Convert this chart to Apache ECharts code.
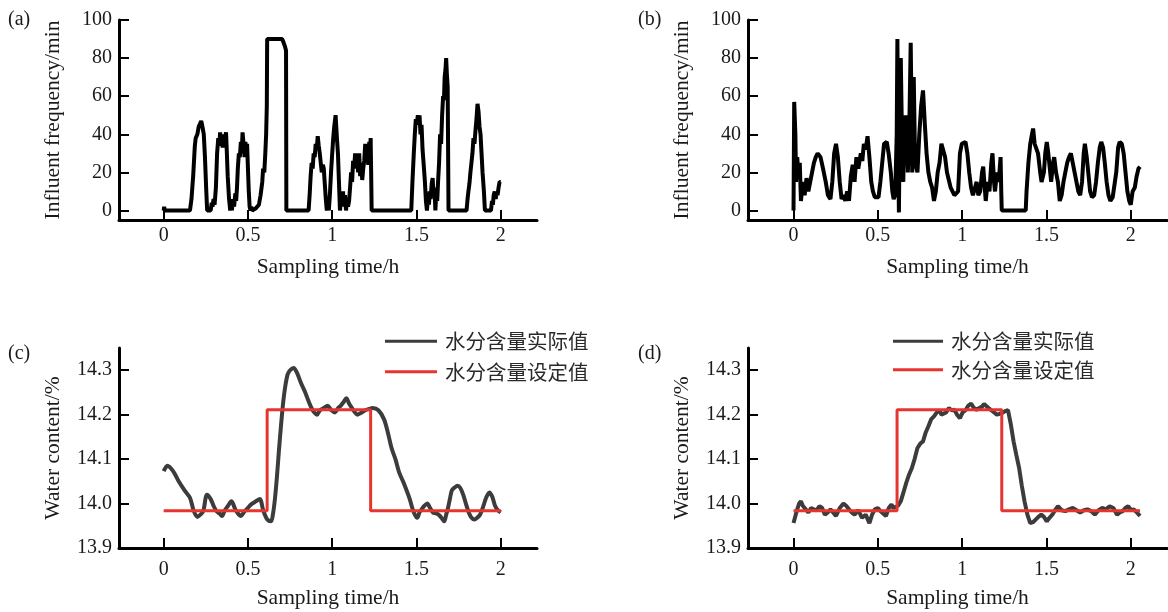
<!DOCTYPE html>
<html>
<head>
<meta charset="utf-8">
<script src="https://cdn.jsdelivr.net/npm/echarts@6/dist/echarts.min.js"></script>
<style>html,body{margin:0;padding:0;background:#fff}#c{width:1168px;height:612px}</style>
</head>
<body>
<div id="c"></div>
<script>
// ---------- data ----------
var xTicks = [0, 0.5, 1, 1.5, 2];
var freqTicks = [0, 20, 40, 60, 80, 100];
var wcTicks = [13.9, 14.0, 14.1, 14.2, 14.3];

// (a) influent frequency, conventional control  [time h, frequency]
var aData = [
  [0,0],[0.003,2],[0.006,0],[0.156,0],[0.165,6],[0.175,18],[0.185,34],[0.19,38],[0.2,40],[0.208,44],[0.215,43],
  [0.223,47],[0.23,44],[0.238,40],[0.245,28],[0.252,12],[0.258,0],[0.279,0],[0.285,4],[0.29,2],[0.296,6],[0.302,3],
  [0.31,12],[0.317,30],[0.324,38],[0.33,34],[0.335,41],[0.34,35],[0.345,38],[0.35,33],[0.355,40],[0.36,36],
  [0.37,41],[0.375,30],[0.38,18],[0.388,6],[0.395,0],[0.4,3],[0.405,0],[0.41,6],[0.418,2],[0.425,9],[0.43,5],
  [0.435,12],[0.44,22],[0.446,30],[0.452,28],[0.458,36],[0.463,30],[0.468,41],[0.475,34],[0.48,28],[0.485,36],
  [0.49,30],[0.495,35],[0.5,22],[0.505,10],[0.51,2],[0.515,0],[0.52,2],[0.525,0],[0.545,1],[0.555,2],[0.565,3],
  [0.575,8],[0.585,15],[0.59,22],[0.597,20],[0.603,30],[0.608,40],[0.612,55],[0.614,90],[0.66,90],[0.703,90],
  [0.712,88],[0.72,86],[0.726,84],[0.728,0],
  [0.86,0],[0.866,8],[0.872,18],[0.878,25],[0.884,22],[0.89,30],[0.896,28],[0.902,35],[0.908,32],[0.914,39],
  [0.92,34],[0.926,30],[0.932,25],[0.938,20],[0.944,24],[0.95,22],[0.956,14],[0.962,6],[0.968,0],[0.974,4],
  [0.98,0],[0.986,8],[0.993,20],[1.0,30],[1.006,38],[1.012,44],[1.02,50],[1.028,38],[1.034,30],[1.04,15],
  [1.046,0],[1.052,6],[1.058,3],[1.064,10],[1.07,2],[1.076,8],[1.082,0],[1.088,6],[1.094,2],[1.1,5],[1.106,12],
  [1.112,20],[1.118,15],[1.124,26],[1.13,22],[1.136,30],[1.142,24],[1.148,28],[1.154,20],[1.16,30],[1.166,18],
  [1.172,25],[1.178,16],[1.184,22],[1.19,26],[1.196,35],[1.202,28],[1.208,30],[1.214,24],[1.22,36],[1.225,30],
  [1.228,38],[1.231,20],[1.234,0],
  [1.469,0],[1.476,15],[1.484,30],[1.49,40],[1.496,48],[1.502,45],[1.508,50],[1.513,47],[1.518,50],[1.524,40],
  [1.53,45],[1.536,32],[1.542,25],[1.55,15],[1.556,5],[1.562,0],[1.569,8],[1.574,3],[1.578,10],[1.584,6],
  [1.59,14],[1.596,17],[1.601,8],[1.607,12],[1.612,0],[1.618,10],[1.623,5],[1.628,15],[1.634,25],[1.64,40],
  [1.646,35],[1.652,50],[1.658,60],[1.663,58],[1.667,70],[1.672,74],[1.676,80],[1.68,72],[1.685,65],[1.69,0],
  [1.797,0],[1.803,6],[1.808,10],[1.814,14],[1.82,20],[1.826,25],[1.832,30],[1.838,38],[1.844,35],[1.85,42],
  [1.856,48],[1.862,56],[1.868,52],[1.874,44],[1.88,40],[1.886,30],[1.892,20],[1.9,10],[1.906,0],
  [1.942,0],[1.948,5],[1.953,3],[1.958,8],[1.964,10],[1.97,6],[1.975,10],[1.981,8],[1.987,12],[1.993,15],[2.0,15]
];

// (b) influent frequency, proposed control  [time h, frequency]
var bData = [
  [0,0],[0.004,57],[0.011,40],[0.015,15],[0.022,28],[0.029,18],[0.037,25],[0.044,5],[0.055,15],[0.066,8],
  [0.077,17],[0.088,10],[0.099,15],[0.11,20],[0.121,25],[0.132,28],[0.143,30],[0.16,28],[0.175,22],[0.191,15],
  [0.204,8],[0.219,6],[0.23,15],[0.241,30],[0.252,35],[0.263,28],[0.274,15],[0.285,6],[0.296,8],[0.307,5],
  [0.318,10],[0.329,5],[0.34,18],[0.351,24],[0.362,15],[0.373,28],[0.384,22],[0.399,30],[0.408,26],[0.417,35],
  [0.428,32],[0.439,39],[0.45,28],[0.461,15],[0.471,10],[0.482,7],[0.493,8],[0.504,7],[0.515,15],[0.526,25],
  [0.537,35],[0.553,36],[0.564,30],[0.577,20],[0.586,10],[0.594,6],[0.603,8],[0.612,40],[0.616,90],[0.621,30],
  [0.625,-1],[0.632,60],[0.636,80],[0.643,40],[0.651,15],[0.658,50],[0.664,30],[0.669,50],[0.678,20],[0.686,40],
  [0.695,88],[0.704,20],[0.713,70],[0.721,25],[0.735,20],[0.746,40],[0.757,55],[0.768,63],[0.779,45],[0.789,30],
  [0.8,20],[0.811,15],[0.822,12],[0.833,5],[0.844,10],[0.855,20],[0.866,25],[0.877,35],[0.888,35],[0.899,28],
  [0.91,20],[0.921,16],[0.932,12],[0.943,10],[0.954,8],[0.965,7],[0.976,10],[0.987,30],[0.998,35],[1.009,36],
  [1.02,36],[1.031,30],[1.042,20],[1.053,12],[1.064,8],[1.075,7],[1.086,15],[1.096,8],[1.107,10],[1.118,20],
  [1.125,23],[1.134,12],[1.14,5],[1.151,15],[1.162,10],[1.173,25],[1.18,30],[1.189,15],[1.195,10],[1.206,20],
  [1.217,15],[1.228,28],[1.232,10],[1.235,0],
  [1.377,0],[1.382,10],[1.393,25],[1.404,35],[1.414,40],[1.421,43],[1.43,35],[1.441,36],[1.45,30],[1.463,20],
  [1.471,15],[1.485,20],[1.493,30],[1.502,36],[1.511,30],[1.52,22],[1.528,15],[1.539,25],[1.546,28],[1.557,20],
  [1.568,15],[1.579,5],[1.59,8],[1.601,15],[1.612,20],[1.623,25],[1.634,28],[1.645,30],[1.656,25],[1.667,20],
  [1.678,15],[1.689,10],[1.7,8],[1.711,15],[1.721,30],[1.728,35],[1.739,28],[1.748,20],[1.759,10],[1.77,7],
  [1.783,8],[1.794,15],[1.805,25],[1.816,33],[1.825,36],[1.836,33],[1.846,25],[1.857,15],[1.868,8],[1.879,5],
  [1.893,7],[1.904,8],[1.914,20],[1.925,33],[1.934,36],[1.947,35],[1.958,30],[1.969,20],[1.98,10],[1.991,5],
  [2.0,3],[2.011,10],[2.024,12],[2.035,18],[2.046,22],[2.055,23]
];

// (c) water content, conventional control  [time h, %]
var cActual = [
  [0,14.073],[0.022,14.085],[0.056,14.073],[0.089,14.05],[0.123,14.03],[0.156,14.013],[0.179,13.983],[0.2,13.97],
  [0.218,13.975],[0.235,13.983],[0.257,14.02],[0.279,14.01],[0.296,13.995],[0.313,13.983],[0.33,13.978],
  [0.346,13.972],[0.363,13.985],[0.38,13.994],[0.402,14.005],[0.425,13.987],[0.44,13.978],[0.458,13.972],
  [0.475,13.98],[0.492,13.987],[0.51,13.995],[0.525,14.0],[0.547,14.005],[0.57,14.01],[0.592,13.983],
  [0.615,13.964],[0.637,13.96],[0.648,13.975],[0.66,14.01],[0.672,14.06],[0.684,14.12],[0.695,14.17],
  [0.707,14.22],[0.72,14.26],[0.735,14.29],[0.75,14.3],[0.771,14.305],[0.79,14.295],[0.816,14.27],[0.84,14.25],
  [0.86,14.23],[0.877,14.215],[0.894,14.205],[0.91,14.2],[0.927,14.21],[0.95,14.215],[0.972,14.22],[0.995,14.21],
  [1.017,14.205],[1.035,14.215],[1.05,14.22],[1.067,14.228],[1.084,14.237],[1.1,14.225],[1.117,14.215],
  [1.135,14.205],[1.15,14.2],[1.175,14.205],[1.196,14.21],[1.22,14.213],[1.24,14.215],[1.274,14.21],
  [1.307,14.19],[1.33,14.16],[1.352,14.125],[1.375,14.1],[1.397,14.07],[1.42,14.05],[1.441,14.03],[1.46,14.01],
  [1.475,13.99],[1.49,13.975],[1.504,13.968],[1.518,13.98],[1.53,13.987],[1.547,13.995],[1.564,14.0],
  [1.581,13.99],[1.598,13.98],[1.615,13.978],[1.631,13.975],[1.648,13.968],[1.665,13.96],[1.676,13.975],
  [1.687,13.99],[1.698,14.01],[1.71,14.03],[1.726,14.036],[1.743,14.04],[1.76,14.035],[1.777,14.02],[1.793,14.0],
  [1.81,13.98],[1.827,13.968],[1.844,13.964],[1.86,13.968],[1.877,13.975],[1.893,13.99],[1.91,14.01],[1.922,14.02],
  [1.933,14.025],[1.95,14.015],[1.966,13.995],[1.983,13.985],[2.0,13.98]
];
var cSetTime = [0, 0.614, 0.614, 1.228, 1.228, 2.0];
var cSet = [13.984, 13.984, 14.211, 14.211, 13.984, 13.984];

// (d) water content, proposed control  [time h, %]
var dActual = [
  [0,13.956],[0.004,13.96],[0.013,13.975],[0.022,13.987],[0.033,14.0],[0.044,14.005],[0.055,13.995],[0.066,13.99],
  [0.077,13.985],[0.088,13.98],[0.104,13.99],[0.12,13.987],[0.137,13.985],[0.154,13.994],[0.17,13.99],
  [0.186,13.975],[0.203,13.98],[0.219,13.987],[0.235,13.98],[0.252,13.972],[0.274,13.99],[0.296,14.0],
  [0.312,13.995],[0.329,13.987],[0.345,13.98],[0.362,13.975],[0.384,13.985],[0.406,13.968],[0.428,13.975],
  [0.45,13.956],[0.466,13.975],[0.482,13.987],[0.5,13.99],[0.515,13.983],[0.53,13.978],[0.548,13.972],
  [0.565,13.99],[0.581,13.998],[0.592,13.99],[0.603,13.987],[0.62,13.995],[0.636,14.005],[0.652,14.025],
  [0.669,14.047],[0.685,14.065],[0.702,14.08],[0.718,14.1],[0.735,14.125],[0.752,14.135],[0.768,14.14],
  [0.784,14.16],[0.8,14.174],[0.817,14.19],[0.833,14.196],[0.85,14.205],[0.866,14.21],[0.877,14.2],[0.888,14.196],
  [0.905,14.205],[0.921,14.215],[0.938,14.21],[0.954,14.211],[0.97,14.2],[0.987,14.192],[1.003,14.205],
  [1.02,14.21],[1.036,14.22],[1.053,14.225],[1.07,14.215],[1.086,14.211],[1.102,14.215],[1.118,14.218],
  [1.13,14.224],[1.14,14.226],[1.157,14.215],[1.173,14.21],[1.19,14.205],[1.206,14.2],[1.222,14.202],
  [1.239,14.204],[1.255,14.208],[1.272,14.21],[1.288,14.18],[1.305,14.14],[1.321,14.11],[1.338,14.08],
  [1.354,14.04],[1.37,14.005],[1.387,13.975],[1.404,13.956],[1.42,13.958],[1.436,13.964],[1.452,13.97],
  [1.469,13.975],[1.485,13.97],[1.502,13.96],[1.518,13.968],[1.535,13.975],[1.551,13.985],[1.568,13.994],
  [1.59,13.985],[1.612,13.983],[1.634,13.987],[1.656,13.99],[1.678,13.985],[1.7,13.98],[1.722,13.985],
  [1.743,13.987],[1.765,13.983],[1.787,13.975],[1.809,13.985],[1.831,13.99],[1.853,13.987],[1.875,13.994],
  [1.897,13.99],[1.919,13.975],[1.935,13.98],[1.952,13.983],[1.968,13.99],[1.985,13.994],[2.002,13.985],
  [2.018,13.987],[2.036,13.98],[2.055,13.972]
];
var dSetTime = [0, 0.614, 0.614, 1.235, 1.235, 2.055];
var dSet = [13.984, 13.984, 14.211, 14.211, 13.984, 13.984];

var legendNames = ['水分含量实际值', '水分含量设定值'];

// ---------- build ----------
function zip(xs, ys) { return xs.map(function (x, i) { return [x, ys[i]]; }); }

var serif = 'Liberation Serif';
var txt = '#1a1a1a';

function xAxis(gi, min, max, labelMargin, nameGap) {
  return {
    type: 'value', gridIndex: gi, min: min, max: max,
    name: 'Sampling time/h', nameLocation: 'middle', nameGap: nameGap,
    nameTextStyle: { fontFamily: serif, fontSize: 21.5, color: txt },
    axisLine: { show: true, onZero: false, lineStyle: { color: '#000', width: 3 } },
    axisTick: { show: true, inside: true, length: 10, lineStyle: { color: '#000', width: 2 }, customValues: xTicks },
    axisLabel: { fontFamily: serif, fontSize: 20, color: txt, margin: labelMargin, customValues: xTicks,
      formatter: function (v) { return String(v); } },
    splitLine: { show: false }
  };
}
function yAxis(gi, min, max, ticks, name, nameGap, fmt) {
  return {
    type: 'value', gridIndex: gi, min: min, max: max,
    name: name, nameLocation: 'middle', nameGap: nameGap, nameRotate: 90,
    nameTextStyle: { fontFamily: serif, fontSize: 21.5, color: txt },
    axisLine: { show: true, onZero: false, lineStyle: { color: '#000', width: 3 } },
    axisTick: { show: true, inside: true, length: 10, lineStyle: { color: '#000', width: 2 }, customValues: ticks },
    axisLabel: { fontFamily: serif, fontSize: 20, color: txt, margin: 7, customValues: ticks, formatter: fmt },
    splitLine: { show: false }
  };
}

var grids = [
  { left: 119, top: 20, width: 418, height: 200 },
  { left: 748, top: 20, width: 419, height: 200 },
  { left: 119, top: 348, width: 418, height: 200 },
  { left: 748, top: 348, width: 419, height: 200 }
];

var fmtInt = function (v) { return String(Math.round(v)); };
var fmtWc = function (v) { return v.toFixed(1); };

var legendText = { fontFamily: 'Noto Sans CJK SC', fontSize: 20.5, color: '#2a2a2a', lineHeight: 20, padding: [0, 0, 0, 3] };

var option = {
  animation: false,
  backgroundColor: '#fff',
  grid: grids,
  xAxis: [
    xAxis(0, -0.265, 2.215, 6, 36),
    xAxis(1, -0.27, 2.215, 6, 36),
    xAxis(2, -0.265, 2.215, 12, 39),
    xAxis(3, -0.27, 2.215, 12, 39)
  ],
  yAxis: [
    yAxis(0, -5, 100, freqTicks, 'Influent frequency/min', 55, fmtInt),
    yAxis(1, -5, 100, freqTicks, 'Influent frequency/min', 55, fmtInt),
    yAxis(2, 13.9, 14.35, wcTicks, 'Water content/%', 55, fmtWc),
    yAxis(3, 13.9, 14.35, wcTicks, 'Water content/%', 55, fmtWc)
  ],
  legend: [
    { orient: 'vertical', left: 385, top: 331, padding: 0, itemWidth: 52, itemHeight: 3, itemGap: 10, icon: 'rect',
      textStyle: legendText,
      data: [{ name: legendNames[0] + ' ', itemStyle: { color: '#3c3c3c' } }, { name: legendNames[1] + ' ', itemStyle: { color: '#e8342f' } }] },
    { orient: 'vertical', left: 893, top: 331, padding: 0, itemWidth: 50, itemHeight: 3, itemGap: 8, icon: 'rect',
      textStyle: legendText,
      data: [{ name: legendNames[0], itemStyle: { color: '#3c3c3c' } }, { name: legendNames[1], itemStyle: { color: '#e8342f' } }] }
  ],
  graphic: [
    { type: 'text', left: 8, top: 10, style: { text: '(a)', font: '20px "Liberation Serif"', fill: txt } },
    { type: 'text', left: 638, top: 10, style: { text: '(b)', font: '20px "Liberation Serif"', fill: txt } },
    { type: 'text', left: 8, top: 344, style: { text: '(c)', font: '20px "Liberation Serif"', fill: txt } },
    { type: 'text', left: 638, top: 344, style: { text: '(d)', font: '20px "Liberation Serif"', fill: txt } }
  ],
  series: [
    { type: 'line', xAxisIndex: 0, yAxisIndex: 0, data: aData, showSymbol: false, symbol: 'none',
      lineStyle: { color: '#000', width: 4 }, silent: true },
    { type: 'line', xAxisIndex: 1, yAxisIndex: 1, data: bData, showSymbol: false, symbol: 'none',
      lineStyle: { color: '#000', width: 4 }, silent: true },
    { name: legendNames[0] + ' ', type: 'line', xAxisIndex: 2, yAxisIndex: 2, data: cActual, showSymbol: false, symbol: 'none', smooth: 0.3,
      lineStyle: { color: '#3c3c3c', width: 4 }, itemStyle: { color: '#3c3c3c' } },
    { name: legendNames[1] + ' ', type: 'line', xAxisIndex: 2, yAxisIndex: 2, data: zip(cSetTime, cSet), showSymbol: false, symbol: 'none',
      lineStyle: { color: '#e8342f', width: 3 }, itemStyle: { color: '#e8342f' } },
    { name: legendNames[0], type: 'line', xAxisIndex: 3, yAxisIndex: 3, data: dActual, showSymbol: false, symbol: 'none',
      lineStyle: { color: '#3c3c3c', width: 4 }, itemStyle: { color: '#3c3c3c' } },
    { name: legendNames[1], type: 'line', xAxisIndex: 3, yAxisIndex: 3, data: zip(dSetTime, dSet), showSymbol: false, symbol: 'none',
      lineStyle: { color: '#e8342f', width: 3 }, itemStyle: { color: '#e8342f' } }
  ]
};

var chart = echarts.init(document.getElementById('c'), null, { renderer: 'canvas' });
chart.setOption(option);
</script>
</body>
</html>
